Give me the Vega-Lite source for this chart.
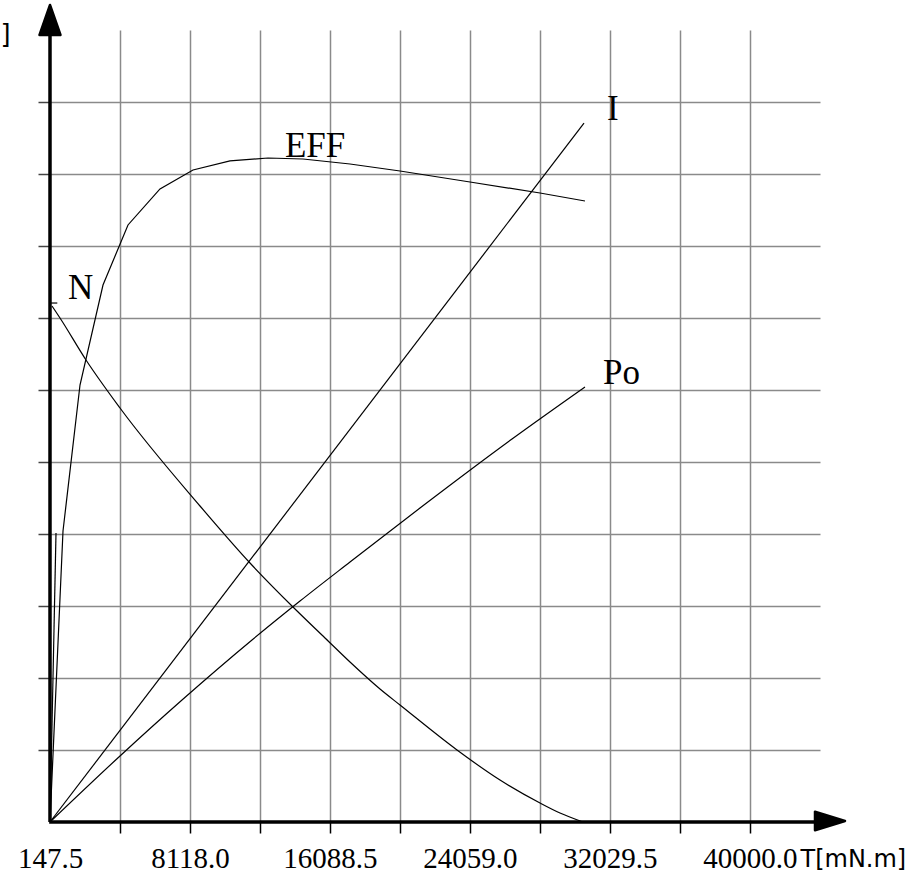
{
  "$schema": "https://vega.github.io/schema/vega-lite/v6.json",
  "autosize": {"type": "none"},
  "padding": {"left": 50, "top": 30, "right": 92, "bottom": 55},
  "width": 770,
  "height": 792,
  "background": "white",
  "config": {
    "view": {"stroke": null},
    "axisX": {"labelFont": "Liberation Serif", "labelFontSize": 29, "labelColor": "black"}
  },
  "datasets": {
    "curves": [
      {"series": "I", "T": 147.5, "Y": 0},
      {"series": "I", "T": 30549.2, "Y": 9.708},
      {"series": "N0", "T": 147.5, "Y": 7.208},
      {"series": "N0", "T": 563.0, "Y": 7.208},
      {"series": "E0", "T": 147.5, "Y": 0},
      {"series": "E0", "T": 489.1, "Y": 4.014},
      {"series": "EFF", "T": 147.5, "Y": 0},
      {"series": "EFF", "T": 887.6, "Y": 4.042},
      {"series": "EFF", "T": 1855.5, "Y": 6.069},
      {"series": "EFF", "T": 3164.9, "Y": 7.458},
      {"series": "EFF", "T": 4588.2, "Y": 8.292},
      {"series": "EFF", "T": 6410.0, "Y": 8.792},
      {"series": "EFF", "T": 8288.8, "Y": 9.056},
      {"series": "EFF", "T": 10395.3, "Y": 9.181},
      {"series": "EFF", "T": 12558.7, "Y": 9.222},
      {"series": "EFF", "T": 14551.3, "Y": 9.208},
      {"series": "EFF", "T": 17227.1, "Y": 9.139},
      {"series": "EFF", "T": 20073.7, "Y": 9.042},
      {"series": "EFF", "T": 24059.0, "Y": 8.889},
      {"series": "EFF", "T": 28044.2, "Y": 8.736},
      {"series": "EFF", "T": 30606.1, "Y": 8.625}
    ],
    "smooth": [
      {"series": "Po", "T": 147.5, "Y": 0},
      {"series": "Po", "T": 4132.7, "Y": 0.917},
      {"series": "Po", "T": 7662.5, "Y": 1.694},
      {"series": "Po", "T": 11647.8, "Y": 2.528},
      {"series": "Po", "T": 14380.5, "Y": 3.069},
      {"series": "Po", "T": 17227.1, "Y": 3.611},
      {"series": "Po", "T": 21212.3, "Y": 4.361},
      {"series": "Po", "T": 26450.1, "Y": 5.319},
      {"series": "Po", "T": 30606.1, "Y": 6.042},
      {"series": "N", "T": 261.4, "Y": 7.167},
      {"series": "N", "T": 716.8, "Y": 7.0},
      {"series": "N", "T": 2197.1, "Y": 6.417},
      {"series": "N", "T": 4132.7, "Y": 5.75},
      {"series": "N", "T": 8687.3, "Y": 4.389},
      {"series": "N", "T": 11533.9, "Y": 3.597},
      {"series": "N", "T": 13981.9, "Y": 2.986},
      {"series": "N", "T": 15803.8, "Y": 2.556},
      {"series": "N", "T": 17227.1, "Y": 2.222},
      {"series": "N", "T": 18935.1, "Y": 1.847},
      {"series": "N", "T": 20073.7, "Y": 1.625},
      {"series": "N", "T": 23318.8, "Y": 1.0},
      {"series": "N", "T": 25767.0, "Y": 0.583},
      {"series": "N", "T": 28044.2, "Y": 0.264},
      {"series": "N", "T": 29182.8, "Y": 0.125},
      {"series": "N", "T": 30492.2, "Y": 0}
    ],
    "labels": [
      {"label": "EFF", "T": 13526, "Y": 9.236},
      {"label": "N", "T": 1172.3, "Y": 7.264},
      {"label": "I", "T": 31858.6, "Y": 9.75},
      {"label": "Po", "T": 31630, "Y": 6.083}
    ],
    "one": [{}]
  },
  "layer": [
    {
      "data": {"name": "curves"},
      "mark": {"type": "line", "color": "black", "strokeWidth": 1.2},
      "encoding": {
        "x": {
          "field": "T", "type": "quantitative",
          "scale": {"domain": [147.5, 43985.3], "nice": false, "zero": false},
          "axis": {
            "values": [147.5, 4132.75, 8118, 12103.25, 16088.5, 20073.75, 24059, 28044.25, 32029.5, 36014.75, 40000],
            "domain": false,
            "grid": true,
            "gridColor": "#8a8a8a",
            "gridWidth": 1.5,
            "gridOpacity": {"condition": {"test": "datum.value < 200", "value": 0}, "value": 1},
            "ticks": true,
            "tickSize": 11,
            "tickColor": "black",
            "tickWidth": 1.5,
            "tickOpacity": {"condition": {"test": "datum.value < 200", "value": 0}, "value": 1},
            "labelExpr": "abs(round((datum.value - 147.5) / 3985.25)) % 2 == 0 ? format(datum.value, '.1f') : ''",
            "labelFont": "Liberation Serif",
            "labelFontSize": 29,
            "labelColor": "black",
            "labelBaseline": "alphabetic",
            "labelPadding": 34,
            "labelOverlap": false,
            "labelFlush": false,
            "labelBound": false,
            "title": "T[mN.m]",
            "titleFont": "DejaVu Sans",
            "titleFontSize": 24,
            "titleFontWeight": "normal",
            "titleColor": "black",
            "titleAlign": "left",
            "titleBaseline": "alphabetic",
            "titleX": 750,
            "titleY": 44
          }
        },
        "y": {
          "field": "Y", "type": "quantitative",
          "scale": {"domain": [0, 11], "nice": false, "zero": false},
          "axis": {
            "values": [1, 2, 3, 4, 5, 6, 7, 8, 9, 10],
            "domain": false,
            "grid": true,
            "gridColor": "#8a8a8a",
            "gridWidth": 1.5,
            "ticks": true,
            "tickSize": 12,
            "tickColor": "#444",
            "tickWidth": 1.5,
            "labels": false,
            "title": "]",
            "titleFont": "DejaVu Sans",
            "titleFontSize": 26,
            "titleFontWeight": "normal",
            "titleColor": "black",
            "titleAngle": 0,
            "titleAlign": "left",
            "titleBaseline": "alphabetic",
            "titleX": -50,
            "titleY": 12
          }
        },
        "detail": {"field": "series"}
      }
    },
    {
      "data": {"name": "smooth"},
      "mark": {"type": "line", "color": "black", "strokeWidth": 1.2, "interpolate": "monotone"},
      "encoding": {
        "x": {"field": "T", "type": "quantitative"},
        "y": {"field": "Y", "type": "quantitative"},
        "detail": {"field": "series"}
      }
    },
    {
      "data": {"name": "labels"},
      "mark": {"type": "text", "font": "Liberation Serif", "fontSize": 35, "align": "left", "baseline": "alphabetic", "color": "black"},
      "encoding": {
        "x": {"field": "T", "type": "quantitative"},
        "y": {"field": "Y", "type": "quantitative"},
        "text": {"field": "label"}
      }
    },
    {
      "data": {"name": "one"},
      "mark": {"type": "rule", "color": "black", "strokeWidth": 3.5},
      "encoding": {
        "x": {"datum": 147.5, "type": "quantitative"},
        "y": {"datum": 0, "type": "quantitative"},
        "y2": {"datum": 11.0}
      }
    },
    {
      "data": {"name": "one"},
      "mark": {"type": "rule", "color": "black", "strokeWidth": 3.5},
      "encoding": {
        "x": {"datum": 100, "type": "quantitative"},
        "x2": {"datum": 44200},
        "y": {"datum": 0, "type": "quantitative"}
      }
    },
    {
      "data": {"name": "one"},
      "mark": {"type": "point", "shape": "M0,-1L0.7,1L-0.7,1Z", "size": 900, "filled": true, "color": "black", "stroke": "black", "strokeWidth": 2.5, "strokeJoin": "round", "opacity": 1},
      "encoding": {
        "x": {"datum": 147.5, "type": "quantitative"},
        "y": {"datum": 11.139, "type": "quantitative"}
      }
    },
    {
      "data": {"name": "one"},
      "mark": {"type": "point", "shape": "M1,0L-1,-0.62L-1,0.62Z", "size": 900, "filled": true, "color": "black", "stroke": "black", "strokeWidth": 2.5, "strokeJoin": "round", "opacity": 1},
      "encoding": {
        "x": {"datum": 44554.5, "type": "quantitative"},
        "y": {"datum": 0.014, "type": "quantitative"}
      }
    }
  ]
}
